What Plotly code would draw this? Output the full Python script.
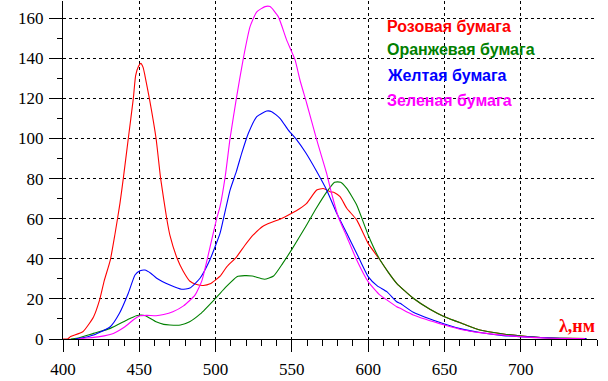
import plotly.graph_objects as go

# Розовая бумага (red)
pink_x = [400, 403, 405, 413, 420, 424, 427, 431, 434, 437.3, 439.5, 442.8, 446.1, 447.6, 449.5, 451, 452.5, 453.7, 456.6,
          461, 464, 468, 470.1, 474.9, 478.8, 483.2, 487.6, 492, 496.4, 502.9, 507.3, 513.8, 519, 524.7, 531.3, 536, 542.2,
          549.9, 555, 559.7, 566.3, 570.6, 575, 578, 581.6, 586, 592.5, 600, 607.8, 613, 618.7, 629.6, 640.5, 650, 662.4,
          673.3, 688.6, 699.5, 717, 730, 743]
pink_y = [0, 0, 1.2, 3.6, 11, 19.5, 29, 39.4, 52, 67.5, 80, 100, 120, 131.4, 136, 137.5, 135.5, 131.4, 120,
          100, 80, 60, 51.7, 40, 33.8, 28.8, 27.2, 26.7, 27.5, 31.3, 36, 41, 46.5, 51.9, 56.4, 58, 59.7,
          62.7, 65, 67.7, 74.3, 75.1, 73.5, 73, 71, 65.2, 59.4, 47.7, 39.4, 33.5, 27.8, 20.3, 14.8, 11.1, 7.5,
          4.5, 2.5, 1.6, 0.6, 0.3, 0.2]

# Оранжевая бумага (green)
orange_x = [405, 409, 420, 431, 442, 448, 451, 454, 461, 466, 470, 477, 483, 490, 500, 507, 514, 519, 524, 532, 538, 544,
            550, 559, 566, 573, 578, 582, 586, 592.5, 600, 607, 613, 618.7, 629.6, 640.5, 650, 662.4, 673.3, 688.6, 699.5,
            717, 730, 743]
orange_y = [0, 0.3, 2.8, 5.3, 9.5, 11.6, 12, 11.6, 8.6, 7.3, 7, 7, 8.6, 12.5, 20.3, 26.1, 31.1, 31.6, 31.4, 29.8, 31.4, 37.7,
            44.7, 56, 65.2, 73.5, 78.2, 78.2, 75.1, 66.8, 51.9, 40.5, 33.5, 27.8, 20.3, 14.8, 11.1, 7.5, 4.5, 2.5, 1.6,
            0.6, 0.3, 0.2]

# Желтая бумага (blue)
yellow_x = [408, 411, 420, 431, 437, 442.8, 447.2, 450.5, 453.7, 457.5, 461.4, 470.1, 477.8, 483.2, 489.8, 496, 502.9, 505,
            509.5, 513.6, 517.1, 521.5, 527, 533.5, 536.8, 542.2, 547.7, 553.2, 559, 566.3, 572.8, 579.4, 586, 592.5, 600,
            606, 612.2, 618.7, 621, 629.6, 650, 662.4, 673.3, 688.6, 699.5, 720, 743]
yellow_y = [0, 0.3, 2, 6.1, 12.8, 22.8, 31.9, 34, 34.4, 32.8, 30.3, 26.9, 24.8, 25.4, 30.3, 39, 52.7, 59.4,
            74.3, 83.5, 92.6, 102.6, 110.9, 113.7, 113.4, 110.1, 104.2, 99.3, 93, 83.5, 74.3, 62.7, 52.7, 42.7, 31.1,
            26.5, 23.6, 18.6, 17.8, 13.3, 7.5, 4.8, 3.2, 1.7, 1.2, 0.5, 0.2]

# Зеленая бумага (magenta)
green_x = [410, 413, 424, 433, 440.6, 446, 450.5, 455, 461, 466, 472, 479, 486.5, 491, 494.6, 500.7, 502.9, 506.4, 509.5,
           513.8, 518.2, 522.6, 527, 532.4, 535.7, 541.1, 546.6, 552.1, 555.3, 559.7, 566.3, 572.8, 576, 580.4, 586,
           592.5, 600, 607.8, 612.2, 618.7, 621, 629.6, 650, 662.4, 673.3, 699.5, 720, 742]
green_y = [0, 0.3, 1.2, 2.8, 6.1, 9.5, 11.6, 11.8, 11.6, 12.2, 13.6, 16.5, 21.9, 29, 40, 60, 66, 81.5, 100.1,
           120.8, 140, 155.8, 163.2, 165.8, 165.8, 160.8, 149.1, 139.2, 129.2, 117.6, 99.3, 82.6, 72.7, 61, 51,
           39.4, 28.6, 21.9, 19.5, 16.1, 15.3, 12, 7, 4.5, 3.2, 1.2, 0.4, 0.2]

series_names = ["Розовая бумага", "Оранжевая бумага", "Желтая бумага", "Зеленая бумага"]
series_colors = ["#FF0000", "#008000", "#0000FF", "#FF00FF"]
series_data = [(pink_x, pink_y), (orange_x, orange_y), (yellow_x, yellow_y), (green_x, green_y)]

x_ticks = [400, 450, 500, 550, 600, 650, 700]
y_ticks = [0, 20, 40, 60, 80, 100, 120, 140, 160]

fig = go.Figure()
for name, color, (xs, ys) in zip(series_names, series_colors, series_data):
    fig.add_trace(go.Scatter(x=xs, y=ys, mode="lines", name=name,
                             line=dict(color=color, width=1.1, shape="spline", smoothing=0.5)))

tickfont = dict(family="Liberation Serif", size=17, color="black")

fig.update_layout(
    width=608, height=381,
    margin=dict(l=63, r=11, t=1, b=42, autoexpand=False),
    paper_bgcolor="white", plot_bgcolor="white",
    showlegend=False,
    xaxis=dict(range=[400, 750], tickvals=x_ticks, ticktext=[str(v) for v in x_ticks],
               showline=True, linecolor="black", linewidth=1, automargin=False,
               ticks="outside", ticklen=12, tickcolor="black", tickwidth=1,
               showgrid=True, gridcolor="black", gridwidth=1, griddash="3px,3px",
               zeroline=False, tickfont=tickfont, ticklabelstandoff=3,
               minor=dict(dtick=10, tick0=400, ticks="outside", ticklen=6, tickcolor="black", showgrid=False)),
    yaxis=dict(range=[0, 168.6], tickvals=y_ticks, ticktext=[str(v) for v in y_ticks],
               showline=True, linecolor="black", linewidth=1, automargin=False,
               ticks="outside", ticklen=13, tickcolor="black", tickwidth=1,
               showgrid=True, gridcolor="black", gridwidth=1, griddash="3px,3px",
               zeroline=False, tickfont=tickfont, ticklabelstandoff=2,
               minor=dict(dtick=10, tick0=0, ticks="outside", ticklen=5, tickcolor="black", showgrid=False)),
)

legend_y = [26, 50, 75, 100]
for name, color, yy in zip(series_names, series_colors, legend_y):
    fig.add_annotation(text="<b>" + name + "</b>", xref="paper", yref="paper",
                       x=(385 - 63) / 534, y=1 - (yy - 1) / 338, xanchor="left", yanchor="middle",
                       showarrow=False, font=dict(family="Liberation Sans", size=16, color=color))

fig.add_annotation(text="<b>λ,нм</b>", xref="paper", yref="paper",
                   x=1.0, y=1 - (326 - 1) / 338, xanchor="right", yanchor="middle",
                   showarrow=False, font=dict(family="Liberation Serif", size=18, color="#FF0000"))

fig.write_html("out.html", config={"displayModeBar": False})

# remove the browser's default page margin so the figure starts at the window corner
with open("out.html", "r", encoding="utf-8") as f:
    html = f.read()
html = html.replace("<head>", "<head><style>html,body{margin:0;padding:0;overflow:hidden;}</style>", 1)
with open("out.html", "w", encoding="utf-8") as f:
    f.write(html)
